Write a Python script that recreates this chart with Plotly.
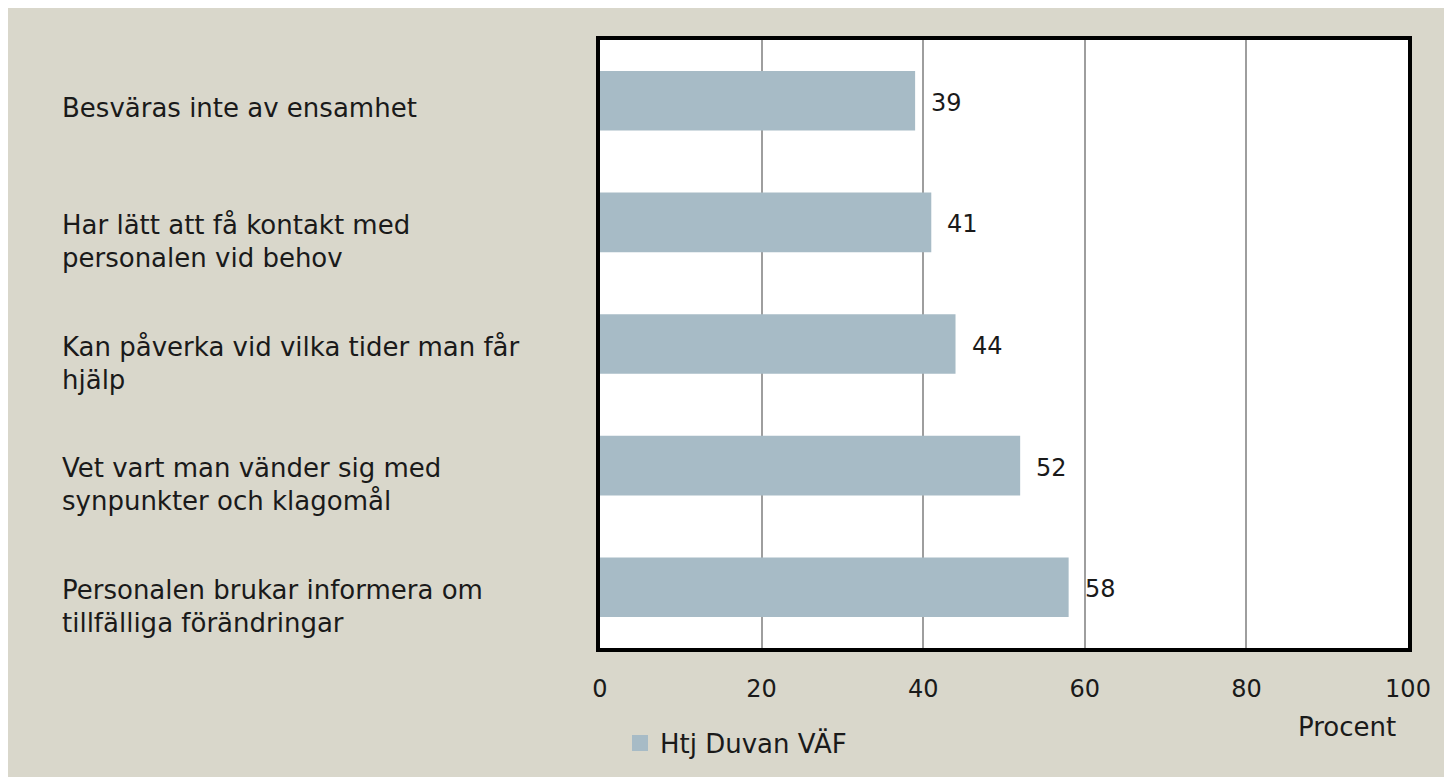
import plotly.graph_objects as go

categories = [
    "Besväras inte av ensamhet",
    "Har lätt att få kontakt med<br>personalen vid behov",
    "Kan påverka vid vilka tider man får<br>hjälp",
    "Vet vart man vänder sig med<br>synpunkter och klagomål",
    "Personalen brukar informera om<br>tillfälliga förändringar",
]
values = [39, 41, 44, 52, 58]
series_name = "Htj Duvan VÄF"
x_ticks = [0, 20, 40, 60, 80, 100]
x_title = "Procent"

FONT = "DejaVu Sans"
BEIGE = "#D9D7CB"
BAR = "#A7BBC6"
TXT = "#1a1a1a"

W, H = 1452, 777
OFF = 8  # page body margin
# plot area in page pixels: x 600..1408, y 40..648
L = 600 - OFF
R = W - (1408 - OFF)
T = 40 - OFF
B = H - (648 - OFF)
pw, ph = W - L - R, H - T - B

def px2x(px):  # page px -> paper x
    return (px - OFF - L) / pw

def py2y(py):  # page px -> paper y
    return (H - B - (py - OFF)) / ph

fig = go.Figure()
fig.add_trace(go.Bar(
    y=categories, x=values, orientation="h",
    marker=dict(color=BAR, line=dict(width=0)),
    width=0.49, name=series_name, showlegend=False,
))
# legend entry with a larger square swatch
fig.add_trace(go.Scatter(
    x=[None], y=[None], mode="markers", name=series_name,
    marker=dict(symbol="square", size=16, color=BAR),
    showlegend=True,
))

annotations = []
for cat in categories:
    lines = cat.split("<br>")
    n = len(lines)
    for i, line in enumerate(lines):
        offset = (i - (n - 1) / 2) * 33 + (7 if n == 1 else 19)
        annotations.append(dict(
            x=px2x(60), xref="paper", xanchor="left",
            y=cat, yref="y", yanchor="middle", yshift=-offset,
            text=line, showarrow=False,
            font=dict(family=FONT, size=26, color=TXT),
        ))
for cat, v in zip(categories, values):
    annotations.append(dict(
        x=v, xref="x", xanchor="left", xshift=14,
        y=cat, yref="y", yanchor="middle", yshift=-2,
        text=str(v), showarrow=False,
        font=dict(family=FONT, size=24, color=TXT),
    ))
annotations.append(dict(
    x=px2x(1347), xref="paper", xanchor="center",
    y=py2y(727), yref="paper", yanchor="middle",
    text=x_title, showarrow=False,
    font=dict(family=FONT, size=26, color=TXT),
))

fig.update_layout(
    width=W, height=H,
    margin=dict(l=L, r=R, t=T, b=B, autoexpand=False),
    paper_bgcolor=BEIGE, plot_bgcolor="white",
    font=dict(family=FONT, size=24, color=TXT),
    xaxis=dict(
        range=[0, 100], tickvals=x_ticks, ticktext=[str(t) for t in x_ticks],
        showgrid=True, gridcolor="#9E9E9E", gridwidth=1.5,
        showline=True, linecolor="black", linewidth=4, mirror=True,
        ticks="outside", ticklen=16, tickcolor="rgba(0,0,0,0)",
        tickfont=dict(family=FONT, size=24, color=TXT), zeroline=False,
    ),
    yaxis=dict(
        categoryorder="array", categoryarray=categories[::-1],
        showticklabels=False, showgrid=False,
        showline=True, linecolor="black", linewidth=4, mirror=True,
        range=[-0.5, 4.5],
    ),
    legend=dict(
        orientation="h", x=px2x(620), xanchor="left", y=py2y(743), yanchor="middle",
        bgcolor="rgba(0,0,0,0)", font=dict(family=FONT, size=26, color=TXT),
        itemwidth=30, itemsizing="trace",
    ),
    annotations=annotations,
)

fig.write_html("out.html")
